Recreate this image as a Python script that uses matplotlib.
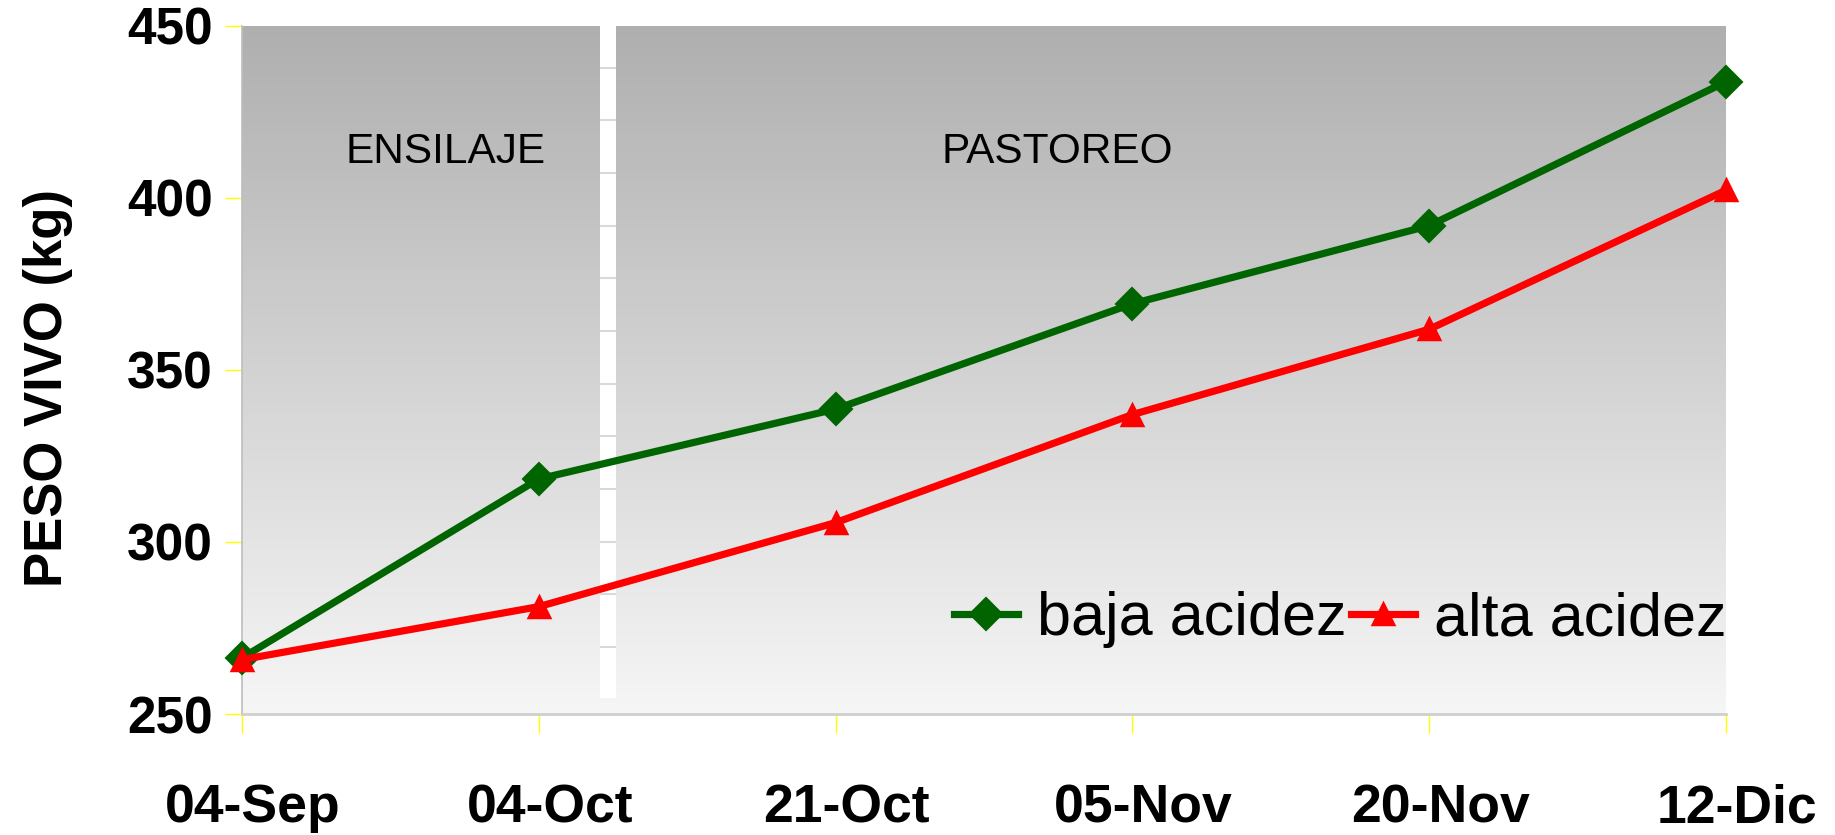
import numpy as np
import matplotlib
matplotlib.use("Agg")
import matplotlib.pyplot as plt
import matplotlib.transforms as mtransforms
from matplotlib.colors import LinearSegmentedColormap

# ---- data ----
fechas = ["04-Sep", "04-Oct", "21-Oct", "05-Nov", "20-Nov", "12-Dic"]
baja_acidez = [266.3, 318.3, 338.6, 369.2, 391.9, 433.7]
alta_acidez = [265.8, 281.2, 305.6, 337.0, 361.8, 402.2]
series_names = ["baja acidez", "alta acidez"]
y_ticks = [250, 300, 350, 400, 450]
fase_labels = ["ENSILAJE", "PASTOREO"]

plt.rcParams['font.family'] = ['Liberation Sans', 'DejaVu Sans']

fig = plt.figure(figsize=(18.35, 8.35), dpi=100)
ax = fig.add_axes([242/1835, 1 - 714/835, (1726 - 242)/1835, (714 - 25.7)/835])

x = np.arange(len(fechas))
ax.set_xlim(0, len(fechas) - 1)
ax.set_ylim(250, 450)

# gradient background
cmap = LinearSegmentedColormap.from_list("bg", ["#f6f6f6", "#afafaf"])
grad = np.linspace(0, 1, 256).reshape(-1, 1)
ax.imshow(grad, cmap=cmap, aspect='auto', origin='lower',
          extent=[0, len(fechas) - 1, 250, 450], zorder=0, interpolation='bilinear')

# white separator bar between phases
gap_x0, gap_x1 = 1.206, 1.260
ax.fill_between([gap_x0, gap_x1], 254.6, 450, color='white', zorder=1, lw=0)
sep_lines = np.arange(437.8, 260, -15.3)
ax.hlines(sep_lines, gap_x0, gap_x1, colors='#d9d9d9', lw=1.5, zorder=1.5)

# phase labels
ax.text(0.687, 413.3, fase_labels[0], fontsize=30.5, ha='center', va='center', zorder=2)
ax.text(2.746, 413.3, fase_labels[1], fontsize=30.5, ha='center', va='center', zorder=2)

# series
ax.plot(x, baja_acidez, color='#006400', lw=5.2, marker='D', ms=16.5, mew=1.5,
        mec='#006400', mfc='#006400', label=series_names[0], zorder=3, clip_on=False)
ax.plot(x, alta_acidez, color='#ff0000', lw=5.2, marker='^', ms=14, mew=2.5,
        mec='#ff0000', mfc='#ff0000', label=series_names[1], zorder=4, clip_on=False,
        solid_joinstyle='round')

# axes styling
for s in ['top', 'right']:
    ax.spines[s].set_visible(False)
ax.spines['left'].set_color('#bdbdbd')
ax.spines['left'].set_linewidth(1.2)
ax.spines['bottom'].set_color('#cfcfcf')
ax.spines['bottom'].set_linewidth(2)
ax.spines['left'].set_zorder(2)

ax.set_xticks(x)
ax.set_xticklabels(fechas, fontsize=38.5, fontweight='bold')
ax.set_yticks(y_ticks)
ax.set_yticklabels([str(v) for v in y_ticks], fontsize=37, fontweight='bold')
ax.tick_params(axis='y', length=12, width=1, color='#ffff00', pad=9)
ax.tick_params(axis='x', length=14, width=1, color='#ffff00', pad=36)

offset = mtransforms.ScaledTranslation(0.11, 0, fig.dpi_scale_trans)
for lbl in ax.get_xticklabels():
    lbl.set_transform(lbl.get_transform() + offset)

ax.set_ylabel("PESO VIVO (kg)", fontsize=38, fontweight='bold', va='center')
ax.yaxis.set_label_coords(-0.131, 0.4736)

leg = ax.legend(loc='center right', bbox_to_anchor=(1.0, 0.137), ncol=2, frameon=False,
                fontsize=44, handlelength=1.05, handletextpad=0.3, columnspacing=0.08,
                borderpad=0, borderaxespad=0, numpoints=1)

fig.savefig("out.png", dpi=100)
